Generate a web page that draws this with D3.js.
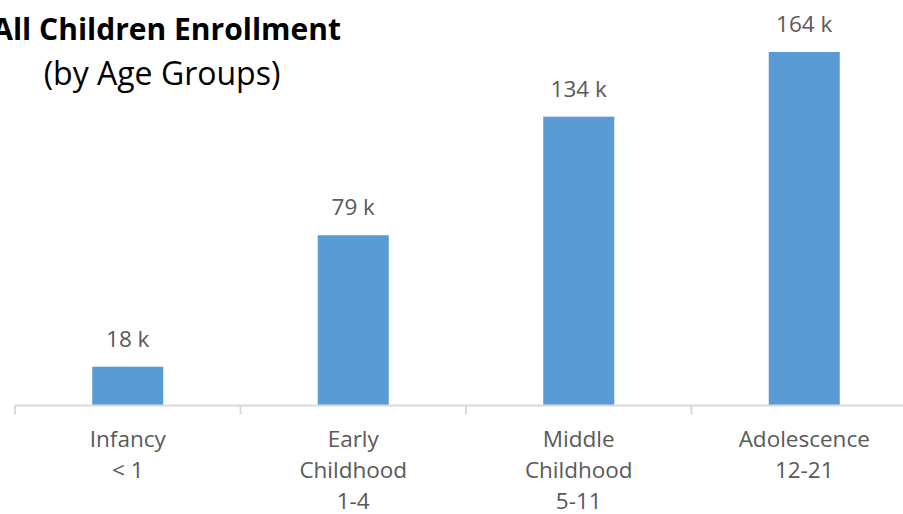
<!DOCTYPE html>
<html><head><meta charset="utf-8">
<script src="https://cdn.jsdelivr.net/npm/d3@7"></script>
<style>body{margin:0;background:#fff}svg{display:block}</style>
</head><body>
<svg id="c" width="903" height="514"></svg>
<script>
const categories = [["Infancy","< 1"],["Early","Childhood","1-4"],["Middle","Childhood","5-11"],["Adolescence","12-21"]];
const values = [18, 79, 134, 164];
const valueLabels = ["18 k","79 k","134 k","164 k"];
const titleLines = ["All Children Enrollment","(by Age Groups)"];

const svg = d3.select("#c");
const font = "'Open Sans', sans-serif";
const keys = categories.map((c,i)=>i);
const x = d3.scaleBand().domain(keys).range([15, 917]).padding(0);
const y = d3.scaleLinear().domain([0, 164]).range([405.5, 52]);
const barW = x.bandwidth()*0.315;

svg.selectAll("rect.bar").data(values).join("rect")
  .attr("class","bar")
  .attr("x",(d,i)=>x(i)+x.bandwidth()/2-barW/2)
  .attr("width",barW)
  .attr("y",d=>y(d))
  .attr("height",d=>y(0)-y(d))
  .attr("fill","#5b9bd5");

const axis = svg.append("g").attr("transform","translate(0,405.5)")
  .call(d3.axisBottom(x).tickSize(0).tickFormat(""));
axis.select(".domain").attr("stroke","#d9d9d9").attr("stroke-width",2).attr("d","M15,0H903");
const tickPos = d3.range(categories.length+1).map(i=>15+i*x.step());
axis.selectAll("line.tk").data(tickPos).join("line").attr("class","tk")
  .attr("x1",d=>d).attr("x2",d=>d).attr("y1",0).attr("y2",9)
  .attr("stroke","#d9d9d9").attr("stroke-width",2);

const lab = svg.append("g");
categories.forEach((c,i)=>{
  const t = lab.append("text").attr("text-anchor","middle")
    .attr("font-family",font).attr("font-size",22.5).attr("fill","#595959");
  c.forEach((line,j)=>t.append("tspan").attr("x",x(i)+x.bandwidth()/2).attr("y",447+j*31).text(line));
});

svg.selectAll("text.val").data(values).join("text").attr("class","val")
  .attr("x",(d,i)=>x(i)+x.bandwidth()/2).attr("y",d=>y(d)-20)
  .attr("text-anchor","middle").attr("font-family",font).attr("font-size",22.5).attr("fill","#595959")
  .text((d,i)=>valueLabels[i]);

svg.append("text").attr("x",341).attr("y",40).attr("text-anchor","end")
  .attr("font-family",font).attr("font-size",30).attr("font-weight","bold").attr("fill","#000")
  .text(titleLines[0]);
svg.append("text").attr("x",162).attr("y",85).attr("text-anchor","middle")
  .attr("font-family",font).attr("font-size",32).attr("fill","#000")
  .text(titleLines[1]);
</script>
</body></html>
